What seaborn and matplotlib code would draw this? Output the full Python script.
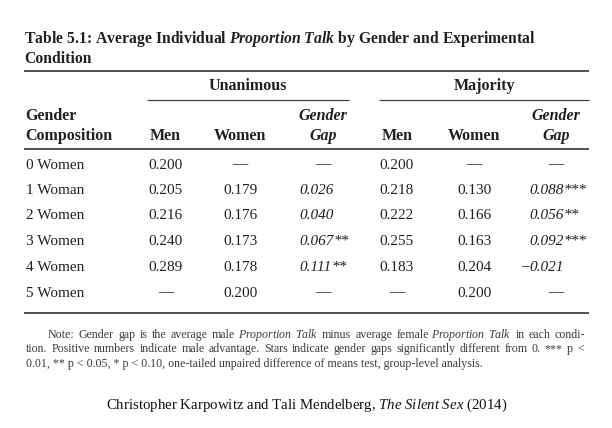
import numpy as np
import pandas as pd
import matplotlib
matplotlib.use("Agg")
import matplotlib.pyplot as plt
import seaborn as sns

# Table data
row_labels = ["0 Women", "1 Woman", "2 Women", "3 Women", "4 Women", "5 Women"]
u_men = [0.200, 0.205, 0.216, 0.240, 0.289, None]
u_women = [None, 0.179, 0.176, 0.173, 0.178, 0.200]
u_gap = [None, 0.026, 0.040, 0.067, 0.111, None]
u_stars = ["", "", "", "**", "**", ""]
m_men = [0.200, 0.218, 0.222, 0.255, 0.183, None]
m_women = [None, 0.130, 0.166, 0.163, 0.204, 0.200]
m_gap = [None, 0.088, 0.056, 0.092, -0.021, None]
m_stars = ["", "***", "**", "***", "", ""]

PT = r"$\mathit{Proportion}$ $\mathit{Talk}$"
title_lines = [r"Table 5.1: Average Individual $\mathbfit{Proportion\ Talk}$ by Gender and Experimental",
               "Condition"]
note_lines = ["Note: Gender gap is the average male " + PT + " minus average female " + PT + " in each condi-",
              "tion. Positive numbers indicate male advantage. Stars indicate gender gaps significantly different from 0. *** p <",
              "0.01, ** p < 0.05, * p < 0.10, one-tailed unpaired difference of means test, group-level analysis."]
credit = r"Christopher Karpowitz and Tali Mendelberg, $\mathit{The\ Silent\ Sex}$ (2014)"

sns.set_theme(style="white")
plt.rcParams["font.family"] = ["Liberation Serif", "DejaVu Serif"]
plt.rcParams["mathtext.fontset"] = "custom"
plt.rcParams["mathtext.rm"] = "Liberation Serif"
plt.rcParams["mathtext.it"] = "Liberation Serif:italic"
plt.rcParams["mathtext.bf"] = "Liberation Serif:bold"
plt.rcParams["mathtext.bfit"] = "Liberation Serif:italic:bold"

fig = plt.figure(figsize=(6.12, 4.28), dpi=100)
ax = fig.add_axes([0, 0, 1, 1])
ax.set_xlim(0, 612)
ax.set_ylim(428, 0)
ax.axis("off")
r = fig.canvas.get_renderer()

INK = "#231f20"
NOTE = "#3c3c3c"


def base(yc, size):
    return yc + 0.3 * size * 100 / 72


def width(t):
    return t.get_window_extent(renderer=r).width


def put(x, yc, s, size, color=INK, ha="left", **kw):
    return ax.text(x, base(yc, size), s, fontsize=size, color=color, ha=ha, va="baseline", **kw)


def justify(x0, x1, yc, line, size, color):
    # spread the words so the line runs from x0 to x1, like the printed note
    words = line.split(" ")
    t = put(0, yc, line, size, color)
    extra = (x1 - x0 - width(t)) / (len(words) - 1)
    t.remove()
    for k, w in enumerate(words):
        pre = put(0, yc, " ".join(words[:k + 1]), size, color)
        tw = put(0, yc, w, size, color)
        start = width(pre) - width(tw)
        pre.remove()
        tw.set_x(x0 + start + k * extra)


# title
put(24, 38, title_lines[0], 11.3, weight="bold")
put(24, 58, title_lines[1], 11.3, weight="bold")

# rules
ax.hlines([71, 148.5, 312.5], 24, 589, color=INK, lw=1.1)
ax.hlines([100, 100], [147, 379], [349, 589], color="#444444", lw=0.9)

# headers
hs = 11.5
put(248, 85, "Unanimous", hs, ha="center", weight="bold")
put(484, 85, "Majority", hs, ha="center", weight="bold")
put(25, 115, "Gender", hs, weight="bold")
put(25, 135, "Composition", hs, weight="bold")
cols = {"um": 165.5, "uw": 240, "ug": 323, "mm": 397, "mw": 474, "mg": 556}
for k in ["um", "mm"]:
    put(cols[k], 135, "Men", hs, ha="center", weight="bold")
for k in ["uw", "mw"]:
    put(cols[k], 135, "Women", hs, ha="center", weight="bold")
for k in ["ug", "mg"]:
    put(cols[k], 115, "Gender", hs, ha="center", weight="bold", style="italic")
    put(cols[k], 135, "Gap", hs, ha="center", weight="bold", style="italic")

# body
ds = 11
row_y = [164, 189, 214, 240, 266, 292]


def cell(x, yc, v):
    s = "\u2014" if v is None else f"{v:.3f}"
    put(x, yc, s, ds, ha="center")


def gap_cell(xc, xstart, yc, v, stars):
    if v is None:
        put(xc, yc, "\u2014", ds, ha="center")
        return
    t = put(xstart, yc, f"{abs(v):.3f}", ds, style="italic")
    w = width(t)
    if v < 0:
        put(xstart - 0.5, yc, "\u2013", ds, ha="right", style="italic")
    if stars:
        put(xstart + w + 0.5, yc, stars, ds, style="italic")


for i, y in enumerate(row_y):
    put(26, y, row_labels[i], ds)
    cell(cols["um"], y, u_men[i])
    cell(cols["uw"], y, u_women[i])
    gap_cell(cols["ug"], 299, y, u_gap[i], u_stars[i])
    cell(cols["mm"], y, m_men[i])
    cell(cols["mw"], y, m_women[i])
    gap_cell(cols["mg"], 529, y, m_gap[i], m_stars[i])

# note
ns = 8.6
justify(48, 585, 334, note_lines[0], ns, NOTE)
justify(26, 584, 348.5, note_lines[1], ns, NOTE)
put(26, 363, note_lines[2], ns, color=NOTE)

# source line
put(106, 404, credit, 10.7, color="#111111")

fig.savefig("out.png", dpi=100)
